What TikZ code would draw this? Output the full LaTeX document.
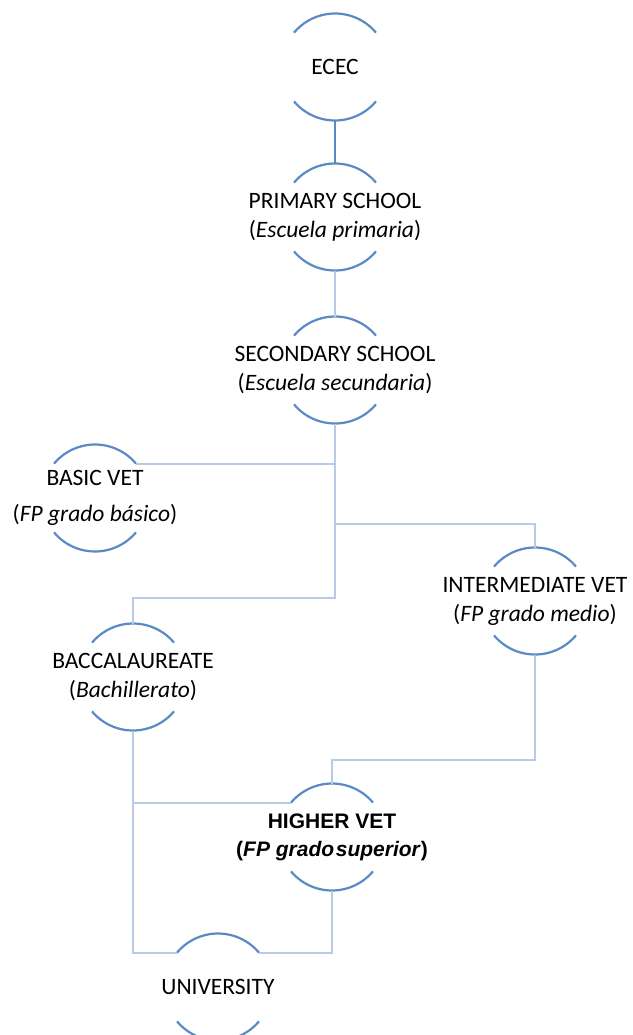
\documentclass[tikz,border=0pt]{standalone}
\usepackage{fontspec}
\setmainfont{Carlito}
\newfontfamily\arialfont{Liberation Sans}
\usepackage{tikz}

\definecolor{arcblue}{HTML}{5A8AC4}
\definecolor{linkblue}{HTML}{B7CAE6}

\tikzset{
	stage/.style={circle, minimum size=107pt, inner sep=0pt, outer sep=0pt},
	stagetext/.style={align=center, inner sep=0pt, font=\fontsize{23.5}{29}\selectfont},
	link/.style={linkblue, line width=2pt},
	arcline/.style={arcblue, line width=2.2pt}
}

\begin{document}
\begin{tikzpicture}[x=1pt, y=1pt]
		\useasboundingbox (0,0) rectangle (632,-1035);
		% stages
		\node[stage, label={[stagetext]center:ECEC}] (ecec) at (335,-67) {};
		\node[stage, label={[stagetext]center:PRIMARY SCHOOL\\(\textit{Escuela primaria})}] (prim) at (335,-217) {};
		\node[stage, label={[stagetext]center:SECONDARY SCHOOL\\(\textit{Escuela secundaria})}] (sec) at (335,-370) {};
		\node[stage, label={[stagetext, font=\fontsize{23.5}{36}\selectfont]center:BASIC VET\\(\textit{FP grado básico})}] (bvet) at (95,-498) {};
		\node[stage, label={[stagetext]center:INTERMEDIATE VET\\(\textit{FP grado medio})}] (ivet) at (535,-601) {};
		\node[stage, label={[stagetext]center:BACCALAUREATE\\(\textit{Bachillerato})}] (bacc) at (133,-677) {};
		\node[stage, label={[stagetext, font=\arialfont\bfseries\fontsize{21}{28}\selectfont]center:HIGHER VET\\(\textit{FP grado\hspace{0.08em}superior})}] (hvet) at (332,-837) {};
		\node[stage, label={[stagetext]center:UNIVERSITY}] (univ) at (218,-987) {};
		\foreach \n in {ecec,prim,sec,bvet,ivet,bacc,hvet,univ}
			\draw[arcline] (\n.40) arc (40:140:53.5pt) (\n.220) arc (220:320:53.5pt);
		% junctions
		\coordinate (fork) at (335,-524);
		\coordinate (split) at (335,-598);
		\coordinate (bend) at (535,-760);
		% links
		\draw[arcline, line width=2pt] (ecec.south) -- (prim.north);
		\draw[link] (prim.south) -- (sec.north);
		\draw[link] (sec.south) -- (split) -| (bacc.north);
		\draw[link] (bvet.40) -- (bvet.40 -| sec.south);
		\draw[link] (fork) -| (ivet.north);
		\draw[link] (bacc.south) |- (univ.140);
		\draw[link] (bacc.south |- hvet.140) -- (hvet.140);
		\draw[link] (ivet.south) -- (bend) -| (hvet.north);
		\draw[link] (hvet.south) |- (univ.40);
	\end{tikzpicture}
\end{document}
